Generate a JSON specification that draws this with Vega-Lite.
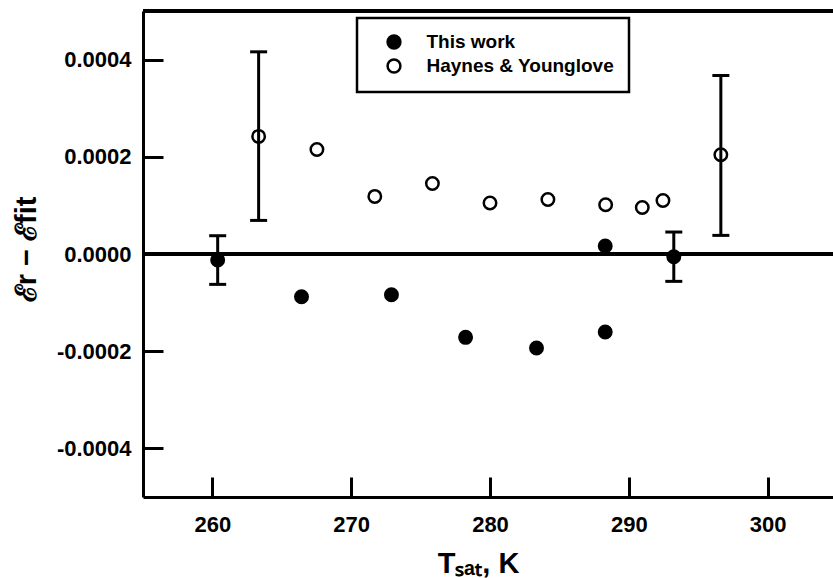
{
  "$schema": "https://vega.github.io/schema/vega-lite/v6.json",
  "width": 690,
  "height": 486,
  "autosize": {"type": "none"},
  "padding": {"left": 143, "top": 11, "right": 0, "bottom": 81},
  "background": "white",
  "config": {
    "view": {"stroke": null},
    "axis": {
      "domainColor": "black", "domainWidth": 3, "tickColor": "black", "tickWidth": 3, "tickSize": -20,
      "grid": false, "labelFont": "Liberation Sans", "labelFontSize": 22, "labelFontWeight": "bold", "labelColor": "black",
      "titleFont": "Liberation Sans", "titleFontSize": 29, "titleFontWeight": "bold", "titleColor": "black"
    }
  },
  "data": {"values": [
    {"series": "This work", "T": 260.38, "dev": -0.0000123, "lo": -0.0000625, "hi": 0.0000376},
    {"series": "This work", "T": 266.42, "dev": -0.0000878, "lo": null, "hi": null},
    {"series": "This work", "T": 272.9, "dev": -0.0000837, "lo": null, "hi": null},
    {"series": "This work", "T": 278.24, "dev": -0.0001715, "lo": null, "hi": null},
    {"series": "This work", "T": 283.35, "dev": -0.0001933, "lo": null, "hi": null},
    {"series": "This work", "T": 288.3, "dev": -0.0001604, "lo": null, "hi": null},
    {"series": "This work", "T": 288.3, "dev": 0.0000165, "lo": null, "hi": null},
    {"series": "This work", "T": 293.24, "dev": -0.0000056, "lo": -0.0000563, "hi": 0.0000452},
    {"series": "Haynes & Younglove", "T": 263.33, "dev": 0.000242, "lo": 0.0000691, "hi": 0.000416},
    {"series": "Haynes & Younglove", "T": 267.53, "dev": 0.000215, "lo": null, "hi": null},
    {"series": "Haynes & Younglove", "T": 271.7, "dev": 0.0001185, "lo": null, "hi": null},
    {"series": "Haynes & Younglove", "T": 275.85, "dev": 0.0001452, "lo": null, "hi": null},
    {"series": "Haynes & Younglove", "T": 280.0, "dev": 0.0001049, "lo": null, "hi": null},
    {"series": "Haynes & Younglove", "T": 284.17, "dev": 0.0001123, "lo": null, "hi": null},
    {"series": "Haynes & Younglove", "T": 288.33, "dev": 0.0001014, "lo": null, "hi": null},
    {"series": "Haynes & Younglove", "T": 290.97, "dev": 0.0000958, "lo": null, "hi": null},
    {"series": "Haynes & Younglove", "T": 292.46, "dev": 0.0001102, "lo": null, "hi": null},
    {"series": "Haynes & Younglove", "T": 296.63, "dev": 0.0002042, "lo": 0.0000383, "hi": 0.0003673}
  ]},
  "layer": [
    {
      "mark": {"type": "point", "shape": "circle", "size": 155, "strokeWidth": 2.5, "stroke": "black", "opacity": 1, "fillOpacity": 1, "strokeOpacity": 1},
      "encoding": {
        "x": {"field": "T", "type": "quantitative",
          "scale": {"domain": [255, 304.71], "nice": false, "zero": false},
          "axis": {"values": [260, 270, 280, 290, 300], "title": "Tₛₐₜ, K", "labelPadding": 37, "titleX": 335, "titleY": 75, "titleBaseline": "alphabetic", "titleAnchor": null}},
        "y": {"field": "dev", "type": "quantitative",
          "scale": {"domain": [-0.0005, 0.0005], "nice": false, "zero": false},
          "axis": {"values": [-0.0004, -0.0002, 0, 0.0002, 0.0004], "labelExpr": "replace(format(datum.value, '.4f'), '−', '-')", "title": "ℰr − ℰfit", "labelPadding": 32, "titleX": -108, "titleY": 238, "titleAngle": -90, "titleAlign": "center", "titleBaseline": "alphabetic"}},
        "fill": {"field": "series", "type": "nominal",
          "scale": {"domain": ["This work", "Haynes & Younglove"], "range": ["black", "transparent"]},
          "legend": {"title": null, "orient": "none", "legendX": 214, "legendY": 7, "padding": 14.5,
            "strokeColor": "black", "fillColor": "white",
            "symbolType": "circle", "symbolSize": 165, "symbolStrokeColor": "black", "symbolStrokeWidth": 2.5, "symbolOpacity": 1,
            "symbolOffset": 13, "labelOffset": 23, "rowPadding": 1, "labelLimit": 400,
            "labelFont": "Liberation Sans", "labelFontSize": 19, "labelFontWeight": "bold", "labelColor": "black",
            "encode": {"legend": {"update": {"strokeWidth": {"value": 2.5}}}}}}
      }
    },
    {
      "mark": {"type": "rule", "strokeWidth": 3, "color": "black"},
      "encoding": {"y": {"datum": 0, "type": "quantitative"}}
    },
    {
      "mark": {"type": "rule", "strokeWidth": 3, "color": "black"},
      "encoding": {"y": {"datum": 0.0005, "type": "quantitative"}}
    },
    {
      "transform": [{"filter": "datum.lo != null"}],
      "mark": {"type": "errorbar", "ticks": {"size": 17, "thickness": 3, "color": "black", "opacity": 1}, "rule": {"strokeWidth": 3, "color": "black", "opacity": 1}},
      "encoding": {
        "x": {"field": "T", "type": "quantitative", "title": "Tₛₐₜ, K"},
        "y": {"field": "lo", "type": "quantitative", "title": "ℰr − ℰfit"},
        "y2": {"field": "hi"}
      }
    }
  ]
}
